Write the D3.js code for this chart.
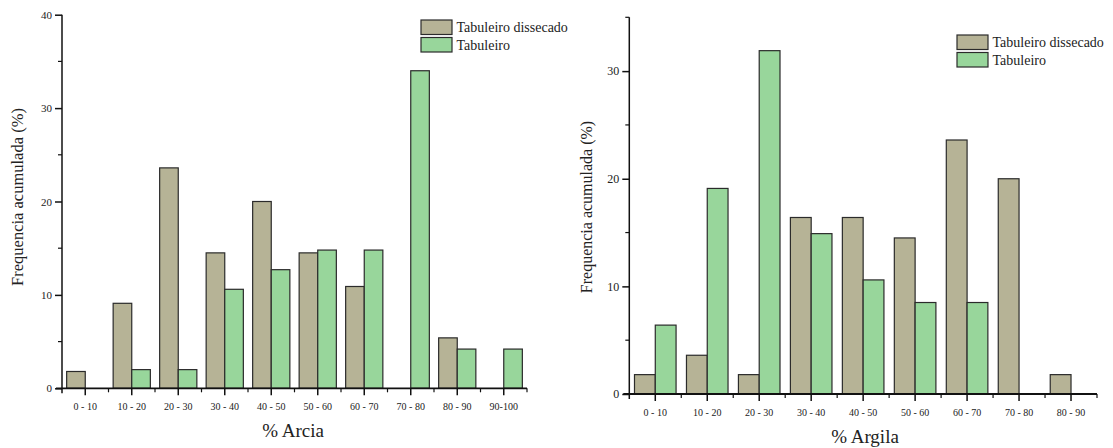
<!DOCTYPE html>
<html>
<head>
<meta charset="utf-8">
<script src="https://cdnjs.cloudflare.com/ajax/libs/d3/7.8.5/d3.min.js"></script>
<style>
  body { margin: 0; background: #fff; }
  svg text { font-family: "Liberation Serif", "DejaVu Serif", serif; fill: #222; }
</style>
</head>
<body>
<div id="chart"></div>
<script>
// data
const seriesNames = ["Tabuleiro dissecado", "Tabuleiro"];
const colors = ["#b6b396", "#98d69b"];

const areiaCats = ["0 - 10", "10 - 20", "20 - 30", "30 - 40", "40 - 50", "50 - 60", "60 - 70", "70 - 80", "80 - 90", "90-100"];
const areiaDissecado = [1.8, 9.1, 23.6, 14.5, 20.0, 14.5, 10.9, 0, 5.4, 0];
const areiaTabuleiro = [0, 2.0, 2.0, 10.6, 12.7, 14.8, 14.8, 34.0, 4.2, 4.2];

const argilaCats = ["0 - 10", "10 - 20", "20 - 30", "30 - 40", "40 - 50", "50 - 60", "60 - 70", "70 - 80", "80 - 90"];
const argilaDissecado = [1.8, 3.6, 1.8, 16.4, 16.4, 14.5, 23.6, 20.0, 1.8];
const argilaTabuleiro = [6.4, 19.1, 31.9, 14.9, 10.6, 8.5, 8.5, 0, 0];

const w = 1113, h = 448;

let svg = d3.select("#chart").append("svg")
            .attr("width", w)
            .attr("height", h);

const drawPanel = (opt) => {
    let g = svg.append("g");
    if (opt.clip) {
        svg.append("clipPath").attr("id", opt.id + "-clip")
           .append("rect").attr("x", 0).attr("y", 0).attr("width", opt.clip).attr("height", h);
        g.attr("clip-path", "url(#" + opt.id + "-clip)");
    }

    let xScale = d3.scaleBand()
                   .domain(opt.cats)
                   .range([opt.x0, opt.x1])
                   .paddingInner(0.2)
                   .paddingOuter(0.1);
    let sub = d3.scaleBand()
                .domain([0, 1])
                .range([0, xScale.bandwidth()]);
    let yScale = d3.scaleLinear()
                   .domain([0, opt.ymax])
                   .range([opt.y0, opt.y1]);

    // bars
    const rows = opt.cats.map((c, i) => ({cat: c, vals: [opt.s1[i], opt.s2[i]]}));
    let grp = g.selectAll("g.cat").data(rows).enter().append("g")
               .attr("transform", d => "translate(" + xScale(d.cat) + ",0)");
    grp.selectAll("rect").data(d => d.vals.map((v, k) => ({v: v, k: k})).filter(p => p.v > 0))
       .enter().append("rect")
       .attr("x", p => sub(p.k))
       .attr("width", sub.bandwidth())
       .attr("y", p => yScale(p.v))
       .attr("height", p => yScale(0) - yScale(p.v))
       .attr("fill", p => colors[p.k])
       .attr("stroke", "#2b2b2b")
       .attr("stroke-width", 1.2);

    // y axis
    let yAxis = d3.axisLeft(yScale).tickValues(d3.range(0, opt.ymax + 0.1, 10)).tickSize(7).tickPadding(3);
    let ya = g.append("g").attr("transform", "translate(" + opt.x0 + ",0)").call(yAxis);
    ya.select(".domain").attr("d", "M0," + (opt.y0 + 5) + "V" + opt.y1).attr("stroke", "#111").attr("stroke-width", 1.5);
    ya.selectAll(".tick line").attr("stroke", "#111").attr("stroke-width", 1.5);
    ya.selectAll(".tick text").style("font-size", opt.yFont + "px").attr("fill", "#222");
    // minor y ticks
    g.append("g").selectAll("line").data(d3.range(5, opt.ymax + 0.1, 10)).enter().append("line")
     .attr("x1", opt.x0 - 4).attr("x2", opt.x0)
     .attr("y1", d => yScale(d)).attr("y2", d => yScale(d))
     .attr("stroke", "#111").attr("stroke-width", 1.2);

    // x axis
    let xAxis = d3.axisBottom(xScale).tickSize(7).tickPadding(8);
    let xa = g.append("g").attr("transform", "translate(0," + opt.y0 + ")").call(xAxis);
    xa.select(".domain").attr("d", "M" + (opt.x0 - 6) + ",0H" + opt.x1).attr("stroke", "#111").attr("stroke-width", 1.8);
    xa.selectAll(".tick line").attr("stroke", "#111").attr("stroke-width", 1.5);
    xa.selectAll(".tick text").style("font-size", "10px").attr("fill", "#333");
    // minor x ticks at class boundaries
    const step = xScale.step();
    g.append("g").selectAll("line").data(opt.cats.slice(1).concat(["end"])).enter().append("line")
     .attr("x1", (d, i) => xScale(opt.cats[0]) + xScale.bandwidth() / 2 + (i + 0.5) * step)
     .attr("x2", (d, i) => xScale(opt.cats[0]) + xScale.bandwidth() / 2 + (i + 0.5) * step)
     .attr("y1", opt.y0).attr("y2", opt.y0 + 4)
     .attr("stroke", "#111").attr("stroke-width", 1.2);

    // titles
    g.append("text")
     .attr("text-anchor", "middle")
     .attr("transform", "translate(" + opt.yLabelX + "," + opt.yLabelY + ")rotate(-90)")
     .style("font-size", opt.yLabelFont + "px")
     .text("Frequencia acumulada (%)");
    g.append("text")
     .attr("text-anchor", "middle")
     .attr("x", opt.xTitleX).attr("y", opt.xTitleY)
     .style("font-size", "19px")
     .text(opt.xTitle);

    // legend
    let lg = g.append("g").attr("transform", "translate(" + opt.legX + "," + opt.legY + ")");
    seriesNames.forEach((s, k) => {
        lg.append("rect").attr("x", 0).attr("y", k * 17.5).attr("width", 31).attr("height", 14.5)
          .attr("fill", colors[k]).attr("stroke", "#2b2b2b").attr("stroke-width", 1.2);
        lg.append("text").attr("x", 35.5).attr("y", k * 17.5 + 12)
          .style("font-size", "14px").text(s);
    });
};

drawPanel({
    id: "areia", cats: areiaCats, s1: areiaDissecado, s2: areiaTabuleiro,
    x0: 62, x1: 527, y0: 388.3, y1: 14.7, ymax: 40, yFont: 11,
    yLabelX: 23, yLabelY: 197, yLabelFont: 16.5, xTitle: "% Arcia", xTitleX: 293, xTitleY: 437,
    legX: 421, legY: 20, clip: 568
});

drawPanel({
    id: "argila", cats: argilaCats, s1: argilaDissecado, s2: argilaTabuleiro,
    x0: 629.3, x1: 1097, y0: 394, y1: 17.3, ymax: 35, yFont: 12,
    yLabelX: 592, yLabelY: 207, yLabelFont: 16, xTitle: "% Argila", xTitleX: 865, xTitleY: 443,
    legX: 957, legY: 35
});
</script>
</body>
</html>
